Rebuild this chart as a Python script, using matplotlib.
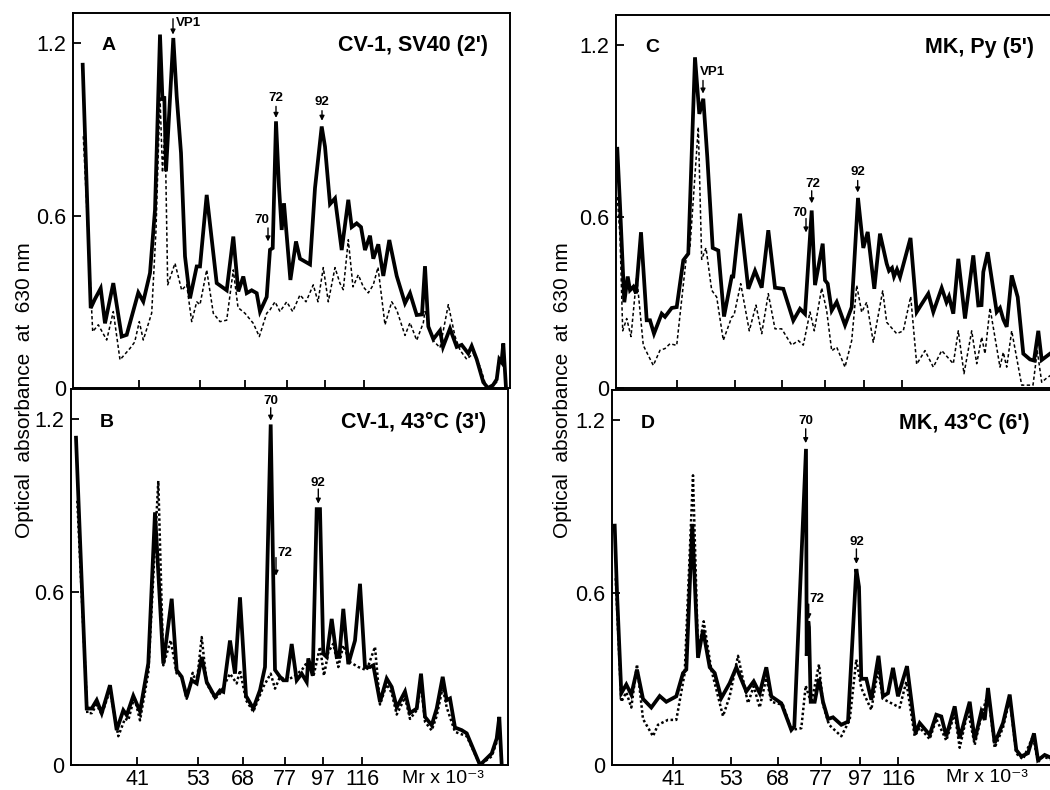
import numpy as np
import matplotlib
matplotlib.use('Agg')
import matplotlib.pyplot as plt

# ==========================================
# DATA  (scan position along gel in arbitrary units, absorbance at 630 nm)
# ==========================================
A_SOLID = [(9.7, 1.125), (17.7, 0.278), (22, 0.31), (27.7, 0.347), (32, 0.225), (40.3, 0.365),
           (48.7, 0.179), (53.7, 0.185), (65.3, 0.332), (70.3, 0.301), (77, 0.40), (82, 0.62),
           (87, 1.23), (89.5, 1.0), (91.3, 1.015), (93, 0.754), (100.3, 1.218), (103.7, 1.015),
           (108, 0.818), (112, 0.458), (117, 0.312), (123.7, 0.423), (127, 0.423), (133.7, 0.672),
           (143.7, 0.365), (153.7, 0.34), (160.3, 0.527), (165.3, 0.336), (170.3, 0.388),
           (173.7, 0.33), (178.7, 0.34), (183.7, 0.33), (187, 0.266), (193.7, 0.317), (197, 0.481),
           (199.7, 0.487), (203, 0.928), (206, 0.70), (208.7, 0.55), (211, 0.643), (217.4, 0.376),
           (223, 0.51), (227, 0.45), (237, 0.43), (242, 0.696), (248.7, 0.91), (252, 0.84),
           (257, 0.64), (262, 0.66), (268.7, 0.48), (275.3, 0.655), (278.7, 0.56), (283.7, 0.573),
           (288, 0.56), (292, 0.48), (297, 0.53), (300.3, 0.45), (305.3, 0.50), (310.3, 0.39),
           (316.3, 0.515), (323.7, 0.39), (332, 0.295), (337, 0.33), (343.7, 0.254), (349, 0.256),
           (352, 0.424), (355.3, 0.214), (360.3, 0.17), (367, 0.20), (370, 0.143), (377, 0.207),
           (383.7, 0.143), (388.7, 0.15), (395.3, 0.12), (398.7, 0.146), (403.7, 0.10),
           (410.3, 0.02), (415, 0.0), (420, 0.01), (423.7, 0.03), (426.3, 0.10), (428.5, 0.09),
           (430.3, 0.155), (433, 0.0)]
A_DOTTED = [(10.3, 0.876), (19.7, 0.196), (25.3, 0.22), (33.7, 0.167), (40.3, 0.266), (47, 0.098),
            (57, 0.138), (61.7, 0.16), (66.3, 0.231), (70.3, 0.167), (78.7, 0.261), (83, 0.55),
            (87, 1.015), (89.5, 0.75), (92, 0.91), (94.7, 0.359), (102, 0.434), (108.7, 0.34),
            (113.7, 0.36), (118.7, 0.231), (123.7, 0.30), (127, 0.29), (133.7, 0.411),
            (140.3, 0.26), (147, 0.231), (153.7, 0.236), (160.3, 0.411), (165, 0.28), (172, 0.26),
            (180.3, 0.225), (186.3, 0.179), (193.7, 0.26), (197, 0.272), (202, 0.30), (207, 0.266),
            (213.7, 0.30), (219.7, 0.266), (227, 0.324), (233, 0.30), (240.3, 0.359), (245, 0.30),
            (250.3, 0.419), (255.3, 0.30), (262, 0.419), (267, 0.364), (270.3, 0.342),
            (275.3, 0.516), (280, 0.352), (285.3, 0.394), (290.3, 0.352), (295.3, 0.331),
            (300.3, 0.359), (305, 0.42), (312, 0.22), (318.7, 0.30), (323.7, 0.272), (332, 0.183),
            (337, 0.227), (343.7, 0.166), (350.3, 0.227), (352, 0.266), (360, 0.166), (367, 0.14),
            (375.3, 0.29), (382, 0.18), (387, 0.132), (393.7, 0.10), (400.3, 0.12), (407, 0.075),
            (413.7, 0.0), (418.7, 0.005), (423.7, 0.02), (425, 0.09), (428.3, 0.085), (431, 0.13),
            (433, 0.0)]

B_SOLID = [(5, 1.136), (15.7, 0.196), (20.7, 0.196), (25.7, 0.225), (30.7, 0.18), (39, 0.277),
           (45.7, 0.121), (52.3, 0.19), (55.7, 0.173), (62.3, 0.24), (69, 0.186), (77.3, 0.353),
           (84, 0.877), (92.3, 0.352), (100.7, 0.577), (105.7, 0.329), (110.7, 0.306),
           (115.7, 0.236), (120.7, 0.294), (125.7, 0.283), (130.7, 0.375), (135.7, 0.288),
           (144, 0.236), (149, 0.259), (152.3, 0.254), (159, 0.432), (164, 0.317), (169, 0.582),
           (175, 0.24), (182.3, 0.196), (189, 0.26), (194, 0.34), (199.7, 1.182), (202.3, 0.64),
           (204, 0.33), (209, 0.306), (212.3, 0.294), (215.7, 0.294), (220.7, 0.42), (225.7, 0.294),
           (230.7, 0.317), (235.7, 0.288), (237.3, 0.37), (241.7, 0.31), (245.7, 0.888),
           (249, 0.888), (252.3, 0.386), (255.7, 0.375), (260.7, 0.507), (265.7, 0.375),
           (268.3, 0.375), (272.3, 0.542), (277.3, 0.35), (284, 0.432), (289, 0.629), (294, 0.34),
           (299, 0.34), (302.3, 0.346), (309, 0.219), (315.7, 0.30), (320.7, 0.271), (325.7, 0.20),
           (334, 0.255), (339, 0.18), (345.7, 0.196), (350, 0.317), (354, 0.167), (360.7, 0.138),
           (365.7, 0.196), (371.7, 0.306), (375.7, 0.225), (379, 0.231), (384, 0.13),
           (390.7, 0.121), (395.7, 0.11), (409, 0.0), (420.7, 0.04), (425.7, 0.092),
           (428.3, 0.167), (430.7, 0.0)]
B_DOTTED = [(6.3, 0.917), (16.3, 0.18), (20.7, 0.18), (25.7, 0.21), (30.7, 0.175), (39, 0.26),
            (47.3, 0.10), (54, 0.161), (57.3, 0.155), (63.3, 0.237), (69, 0.155), (77.3, 0.32),
            (87.3, 0.986), (92.3, 0.346), (99.7, 0.433), (105.7, 0.317), (110.7, 0.306),
            (115.7, 0.23), (121.7, 0.32), (125.7, 0.283), (130.7, 0.444), (135.7, 0.283),
            (144, 0.23), (149, 0.248), (159, 0.317), (165.7, 0.283), (169, 0.329), (175, 0.225),
            (182.3, 0.185), (192.3, 0.271), (199.7, 0.317), (204, 0.265), (209, 0.306),
            (215.7, 0.294), (222.3, 0.306), (230.7, 0.329), (237.3, 0.363), (242.3, 0.306),
            (249, 0.41), (253, 0.31), (257.3, 0.392), (262.3, 0.421), (267.3, 0.34),
            (272.3, 0.415), (279, 0.357), (287.3, 0.34), (295.7, 0.329), (304, 0.41), (309, 0.21),
            (315.7, 0.28), (320.7, 0.25), (325.7, 0.175), (334, 0.235), (339, 0.16), (345.7, 0.19),
            (350, 0.28), (354, 0.15), (360.7, 0.12), (365.7, 0.17), (371.7, 0.27), (375.7, 0.20),
            (384, 0.115), (395.7, 0.10), (409, 0.0), (420.7, 0.03), (425.7, 0.08), (428.3, 0.14),
            (430.7, 0.0)]

C_SOLID = [(1.3, 0.837), (4, 0.64), (8.3, 0.30), (11.7, 0.39), (14, 0.342), (17.3, 0.354),
           (20, 0.331), (25, 0.545), (30.7, 0.237), (34, 0.237), (38, 0.19), (45.7, 0.26),
           (49, 0.249), (55.7, 0.28), (60.7, 0.283), (67.3, 0.447), (72.3, 0.47), (79, 1.157),
           (83.3, 0.959), (87.3, 1.012), (91.3, 0.808), (96.7, 0.49), (102.3, 0.481), (108, 0.25),
           (115.7, 0.39), (117.3, 0.39), (124, 0.61), (132.3, 0.347), (139, 0.41), (145.7, 0.351),
           (152.3, 0.552), (159, 0.351), (167.3, 0.347), (177.3, 0.236), (184, 0.277),
           (189, 0.259), (195.7, 0.621), (199, 0.36), (206.7, 0.505), (209, 0.377), (211.7, 0.365),
           (215.7, 0.271), (220.7, 0.301), (229, 0.22), (235.7, 0.283), (242, 0.665), (247.3, 0.49),
           (251.7, 0.546), (258.3, 0.347), (264, 0.54), (270.7, 0.435), (273, 0.41), (276, 0.42),
           (278, 0.39), (281, 0.415), (284, 0.388), (294.5, 0.525), (300.7, 0.266), (305, 0.29),
           (312.3, 0.33), (317.3, 0.266), (325.7, 0.35), (330.5, 0.30), (333, 0.32), (337.3, 0.26),
           (342.3, 0.452), (349, 0.243), (357.3, 0.464), (362.3, 0.289), (365.5, 0.29),
           (367.3, 0.406), (371.7, 0.475), (380.7, 0.266), (384, 0.28), (387.3, 0.24),
           (390.7, 0.214), (395.7, 0.394), (401.7, 0.318), (407.3, 0.12), (414, 0.10),
           (418, 0.096), (422.3, 0.20), (425.7, 0.098), (434, 0.12), (442, 0.14)]
C_DOTTED = [(1.3, 0.668), (4, 0.53), (6.7, 0.20), (10.7, 0.243), (15, 0.18), (20.7, 0.39),
            (27.3, 0.149), (37.3, 0.079), (44, 0.132), (49, 0.138), (54, 0.155), (60.7, 0.149),
            (70.7, 0.47), (74, 0.493), (82.3, 0.913), (85.7, 0.45), (90, 0.49), (95.7, 0.342),
            (100.7, 0.318), (107.3, 0.167), (115.7, 0.248), (118, 0.254), (124.7, 0.365),
            (133.3, 0.20), (140, 0.29), (145.7, 0.19), (152.3, 0.33), (159, 0.207), (165.7, 0.207),
            (175.7, 0.15), (182.3, 0.166), (187.3, 0.15), (194, 0.266), (198.3, 0.20),
            (205.7, 0.35), (210.7, 0.27), (215.7, 0.13), (220.7, 0.143), (229, 0.073),
            (235.7, 0.166), (240.7, 0.359), (245.7, 0.265), (250.7, 0.30), (257.3, 0.16),
            (266.7, 0.34), (270.7, 0.23), (280.7, 0.19), (287.3, 0.20), (294.7, 0.32),
            (300.7, 0.083), (309, 0.131), (317.3, 0.073), (325.7, 0.131), (337.3, 0.085),
            (342.3, 0.20), (348, 0.05), (355.7, 0.20), (360.7, 0.085), (365.7, 0.178), (369, 0.12),
            (374, 0.28), (384, 0.073), (387.3, 0.125), (390.7, 0.073), (395.7, 0.20),
            (405.7, 0.01), (417, 0.01), (421.3, 0.13), (425.7, 0.02), (430.7, 0.035), (437, 0.05),
            (442, 0.04)]

D_SOLID = [(2.7, 0.833), (5, 0.60), (9.3, 0.25), (14.3, 0.28), (19.3, 0.245), (25, 0.332),
           (31, 0.23), (39.3, 0.20), (47.7, 0.24), (54.3, 0.22), (64.3, 0.239), (71, 0.32),
           (74.3, 0.332), (80.3, 0.839), (86, 0.373), (91, 0.47), (97.7, 0.34), (102.7, 0.32),
           (109.3, 0.233), (117.7, 0.285), (124.3, 0.34), (134.3, 0.256), (141.7, 0.291),
           (147.7, 0.25), (154.3, 0.34), (159.3, 0.239), (169.3, 0.215), (179.3, 0.122),
           (182.3, 0.134), (194, 1.10), (194.7, 0.38), (196.3, 0.50), (197, 0.48), (198.7, 0.22),
           (202.7, 0.22), (207, 0.30), (211, 0.22), (216, 0.16), (221, 0.166), (229.3, 0.14),
           (236, 0.151), (244.3, 0.682), (247, 0.62), (249.3, 0.30), (254.3, 0.30), (259.3, 0.227),
           (266.5, 0.38), (271, 0.239), (276, 0.25), (281, 0.338), (286, 0.239), (295, 0.344),
           (303.5, 0.111), (307.7, 0.146), (317.7, 0.105), (324.3, 0.175), (329.3, 0.169),
           (334.3, 0.10), (342.7, 0.204), (347.7, 0.093), (357.7, 0.22), (362.7, 0.087),
           (369.3, 0.185), (372.7, 0.157), (376, 0.268), (382.7, 0.076), (391, 0.146),
           (397.7, 0.245), (404.3, 0.052), (409.3, 0.03), (416, 0.041), (422, 0.11), (426, 0.017),
           (432.7, 0.035), (436, 0.03), (442, 0.02)]
D_DOTTED = [(3.7, 0.65), (9.3, 0.22), (14.3, 0.253), (19.3, 0.20), (25, 0.35), (31, 0.16),
            (41, 0.10), (46, 0.14), (56, 0.157), (64.3, 0.157), (72.7, 0.32), (81, 1.008),
            (86, 0.39), (91.7, 0.50), (99.3, 0.332), (111, 0.17), (117.7, 0.239), (126, 0.38),
            (136, 0.215), (141.7, 0.274), (147.7, 0.20), (154.3, 0.303), (159.3, 0.22),
            (171, 0.209), (179.3, 0.122), (189.3, 0.128), (193.7, 0.276), (199.3, 0.215),
            (207, 0.35), (211, 0.21), (217, 0.14), (229.3, 0.10), (237.7, 0.157), (244.3, 0.367),
            (249.3, 0.268), (259.3, 0.192), (266, 0.33), (271, 0.23), (287.7, 0.20), (294.3, 0.29),
            (302.7, 0.10), (307.7, 0.13), (317.7, 0.09), (324.3, 0.16), (334.3, 0.085),
            (342.7, 0.18), (347.7, 0.06), (356, 0.19), (362.7, 0.07), (369.3, 0.17), (376, 0.25),
            (382.7, 0.06), (391, 0.13), (397.7, 0.23), (404.3, 0.04), (411, 0.02), (421, 0.10),
            (426, 0.01), (431, 0.03), (442, 0.015)]

# molecular weight markers (Mr x 10^-3) along the scan
MW_LABELS = ['41', '53', '68', '77', '97', '116']
MW_POS_LEFT = [66, 127, 172, 214, 252, 291]
MW_POS_RIGHT = [61, 119, 166, 209, 248, 286]
Y_TICKS = [0, 0.6, 1.2]
Y_LABELS = ['0', '0.6', '1.2']

# peak markers: label, x, arrow tip, arrow tail, text x, text y, alignment
A_PEAKS = [('VP1', 100, 1.23, 1.285, 115, 1.27, 'center'),
           ('72', 203, 0.94, 0.98, 203, 1.01, 'center'),
           ('92', 249, 0.93, 0.965, 249, 0.995, 'center'),
           ('70', 195, 0.51, 0.557, 189, 0.585, 'center')]
B_PEAKS = [('70', 199.7, 1.195, 1.24, 200, 1.265, 'center'),
           ('72', 205, 0.657, 0.72, 206, 0.735, 'left'),
           ('92', 247.3, 0.907, 0.958, 247.3, 0.98, 'center')]
C_PEAKS = [('VP1', 87, 1.03, 1.076, 96, 1.105, 'center'),
           ('72', 195.7, 0.646, 0.69, 197, 0.715, 'center'),
           ('70', 190, 0.544, 0.593, 184, 0.614, 'center'),
           ('92', 241.7, 0.684, 0.726, 241.7, 0.755, 'center')]
D_PEAKS = [('70', 193.7, 1.12, 1.17, 193.7, 1.197, 'center'),
           ('72', 196.7, 0.507, 0.56, 197, 0.577, 'left'),
           ('92', 244.4, 0.70, 0.752, 244.4, 0.777, 'center')]

plt.rcParams['font.family'] = ['Liberation Sans', 'DejaVu Sans']

W, H = 1050, 790


def rect(left, top, right, bottom):
    return [left / W, 1 - bottom / H, (right - left) / W, (bottom - top) / H]


def draw_panel(fig, box, xmax, solid, dotted, dot_lw, dot_dash, letter, title, mw_pos,
               peaks, show_labels):
    ax = fig.add_axes(box)
    sx, sy = zip(*solid)
    dx, dy = zip(*dotted)
    ax.plot(sx, sy, color='black', lw=2.7, solid_joinstyle='miter', zorder=3)
    ax.plot(dx, dy, color='black', lw=dot_lw, linestyle=(0, dot_dash), zorder=4)
    ax.set_xlim(0, xmax)
    ax.set_ylim(0, 1.305)

    ax.set_yticks(Y_TICKS)
    ax.set_yticklabels(Y_LABELS)
    ax.set_xticks(mw_pos)
    if show_labels:
        ax.set_xticklabels(MW_LABELS)
        ax.text(0.851, -0.012, 'Mr x 10⁻³', transform=ax.transAxes, ha='center', va='top',
                fontsize=14)
    else:
        ax.set_xticklabels([])
    ax.tick_params(direction='in', length=6, width=1.3, labelsize=15.5, pad=5)
    ax.tick_params(axis='x', pad=3)
    for sp in ax.spines.values():
        sp.set_linewidth(1.4)

    ax.text(0.082, 0.912, letter, transform=ax.transAxes, ha='center', va='center',
            fontsize=14, fontweight='bold')
    ax.text(0.95, 0.912, title, transform=ax.transAxes, ha='right', va='center',
            fontsize=15.5, fontweight='bold')

    for lab, x, tip, tail, tx, ty, ha in peaks:
        ax.annotate('', xy=(x, tip), xytext=(x, tail),
                    arrowprops=dict(arrowstyle='-|>', color='black', lw=1.0,
                                    mutation_scale=7, shrinkA=0, shrinkB=0))
        ax.text(tx, ty, lab, ha=ha, va='center', fontsize=9.5, fontweight='bold')
    return ax


fig = plt.figure(figsize=(W / 100, H / 100), dpi=100)

draw_panel(fig, rect(73, 13, 510, 388), 437, A_SOLID, A_DOTTED, 1.1, (2.2, 1.6), 'A',
           "CV-1, SV40 (2')", MW_POS_LEFT, A_PEAKS, False)
draw_panel(fig, rect(71, 389, 508, 765), 437, B_SOLID, B_DOTTED, 1.8, (1.0, 1.0), 'B',
           "CV-1, 43°C (3')", MW_POS_LEFT, B_PEAKS, True)
draw_panel(fig, rect(616, 15, 1056, 388), 440, C_SOLID, C_DOTTED, 1.1, (2.2, 1.6), 'C',
           "MK, Py (5')", MW_POS_RIGHT, C_PEAKS, False)
draw_panel(fig, rect(612, 390, 1052, 765), 440, D_SOLID, D_DOTTED, 1.8, (1.0, 1.0), 'D',
           "MK, 43°C (6')", MW_POS_RIGHT, D_PEAKS, True)

fig.text(25 / W, 1 - 390 / H, 'Optical  absorbance  at  630 nm', rotation=90,
         ha='center', va='center', fontsize=15)
fig.text(563 / W, 1 - 390 / H, 'Optical  absorbance  at  630 nm', rotation=90,
         ha='center', va='center', fontsize=15)

fig.savefig('out.png', dpi=100)
